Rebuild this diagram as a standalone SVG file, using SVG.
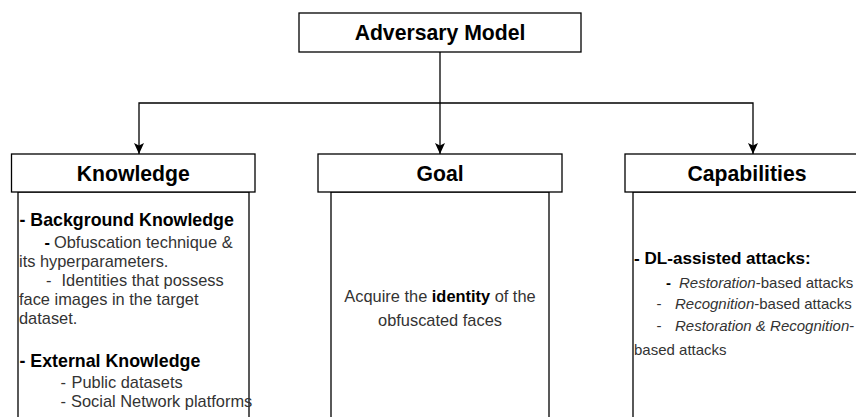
<svg xmlns="http://www.w3.org/2000/svg" width="856" height="417" viewBox="0 0 856 417">
  <style>
    .box{fill:#fff;stroke:#000;stroke-width:1.3}
    .panel{fill:#fff;stroke:#000;stroke-width:1.3}
    .conn{fill:none;stroke:#000;stroke-width:1.3}
    .title{font-family:"Liberation Sans",Arial,Helvetica,sans-serif;font-weight:bold;font-size:21.2px;fill:#000;text-anchor:middle}
    .sub{font-family:"Liberation Sans",Arial,Helvetica,sans-serif;font-weight:bold;font-size:17.8px;fill:#000}
    .txt{font-family:"Liberation Sans",Arial,Helvetica,sans-serif;font-size:16.4px;fill:#333}
    .cap .sub{font-size:17.1px}
    .cap .txt{font-size:15px}
    .b{font-weight:bold;fill:#000}
    .i{font-style:italic}
  </style>
  <defs>
    <marker id="arrow" markerUnits="userSpaceOnUse" markerWidth="11" markerHeight="10" viewBox="0 0 11 10" refX="11" refY="5" orient="auto">
      <path d="M0,0 L11,5 L0,10 L2.5,5 Z" fill="#000"/>
    </marker>
  </defs>

  <!-- connectors from the root to the three categories -->
  <g id="connectors">
    <path class="conn" d="M440,52 V154" marker-end="url(#arrow)"/>
    <path class="conn" d="M440,103 H139 V154" marker-end="url(#arrow)"/>
    <path class="conn" d="M440,103 H753 V154" marker-end="url(#arrow)"/>
  </g>

  <g id="adversary-model">
    <rect class="box" x="299" y="13" width="282" height="39"/>
    <text class="title" x="440" y="40">Adversary Model</text>
  </g>

  <g id="knowledge">
    <rect class="panel" x="18" y="192" width="231" height="250"/>
    <rect class="box" x="11.5" y="154" width="243.5" height="38"/>
    <text class="title" x="133.3" y="180.5">Knowledge</text>
    <text class="sub" x="19.5" y="226">- Background Knowledge</text>
    <text class="txt" y="247.5"><tspan class="b" x="44.5">-</tspan><tspan x="54">Obfuscation technique &amp;</tspan></text>
    <text class="txt" x="19" y="267">its hyperparameters.</text>
    <text class="txt" y="286"><tspan x="46">-</tspan><tspan x="61.5">Identities that possess</tspan></text>
    <text class="txt" x="19" y="305">face images in the target</text>
    <text class="txt" x="19" y="324">dataset.</text>
    <text class="sub" x="19.5" y="366.7">- External Knowledge</text>
    <text class="txt" y="387.7"><tspan x="60.5">-</tspan><tspan x="71.5">Public datasets</tspan></text>
    <text class="txt" y="406.7"><tspan x="60.5">-</tspan><tspan x="71">Social Network platforms</tspan></text>
  </g>

  <g id="goal">
    <rect class="panel" x="331" y="192" width="218" height="250"/>
    <rect class="box" x="318" y="154" width="244" height="38"/>
    <text class="title" x="440" y="180.5">Goal</text>
    <text class="txt" x="440" y="302" text-anchor="middle">Acquire the <tspan class="b">identity</tspan> of the</text>
    <text class="txt" x="440" y="326" text-anchor="middle">obfuscated faces</text>
  </g>

  <g id="capabilities" class="cap">
    <rect class="panel" x="633" y="192" width="230" height="250"/>
    <rect class="box" x="625" y="154" width="244" height="38"/>
    <text class="title" x="747" y="180.5">Capabilities</text>
    <text class="sub" x="634" y="264">- DL-assisted attacks:</text>
    <text class="txt" y="287.5"><tspan class="b" x="666">-</tspan><tspan class="i" x="679">Restoration</tspan>-based attacks</text>
    <text class="txt" y="309"><tspan x="656.5">-</tspan><tspan class="i" x="675">Recognition</tspan>-based attacks</text>
    <text class="txt" y="330.5"><tspan x="656.5">-</tspan><tspan class="i" x="675">Restoration &amp; Recognition</tspan>-</text>
    <text class="txt" x="634" y="355">based attacks</text>
  </g>
</svg>
